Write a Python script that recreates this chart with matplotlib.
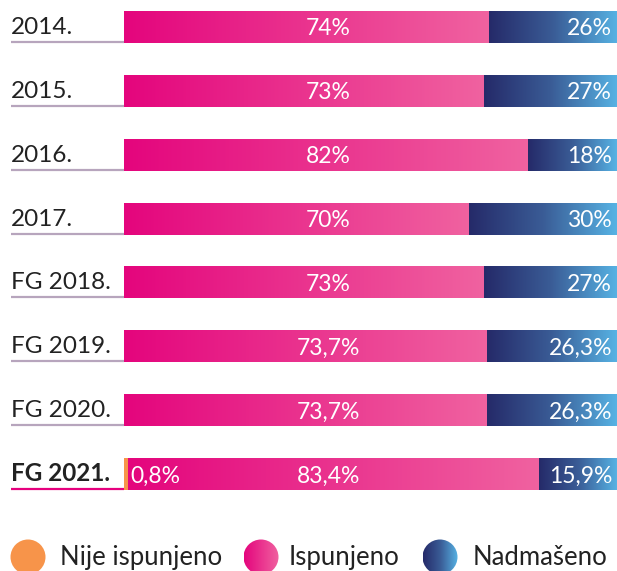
import numpy as np
import matplotlib.pyplot as plt
from matplotlib.colors import LinearSegmentedColormap
from matplotlib.patches import Circle

plt.rcParams['font.family'] = ['Lato', 'DejaVu Sans']

# Data
years = ['2014.', '2015.', '2016.', '2017.', 'FG 2018.', 'FG 2019.', 'FG 2020.', 'FG 2021.']
nije = [0, 0, 0, 0, 0, 0, 0, 0.8]
ispunjeno = [74, 73, 82, 70, 73, 73.7, 73.7, 83.4]
nadmaseno = [26, 27, 18, 30, 27, 26.3, 26.3, 15.9]
legend_labels = ['Nije ispunjeno', 'Ispunjeno', 'Nadmašeno']

# Colours
orange = '#f7944a'
pink_cmap = LinearSegmentedColormap.from_list('pink', ['#e4057d', '#f062a0'])
blue_cmap = LinearSegmentedColormap.from_list('blue', ['#252a69', '#3a5c96', '#57b3e4'])
grad = np.linspace(0, 1, 256).reshape(1, -1)


def fmt(v):
    return f"{v:g}".replace('.', ',') + '%'


W, H = 617, 571
fig = plt.figure(figsize=(W / 100, H / 100), dpi=100)

# bars axes: x in percent, y in rows
row_px = 63.86
first_px = 27
ax = fig.add_axes([124 / W, 0, 493 / W, 1])
ax.axis('off')
bar_h = 32 / row_px

for i, year in enumerate(years):
    y0, y1 = i - bar_h / 2, i + bar_h / 2
    left = 0
    if nije[i] > 0:
        ax.barh(i, nije[i], left=left, height=bar_h, color=orange, linewidth=0)
        left += nije[i]
    ax.imshow(grad, cmap=pink_cmap, extent=(left, left + ispunjeno[i], y1, y0),
              aspect='auto', interpolation='bicubic')
    left += ispunjeno[i]
    ax.imshow(grad, cmap=blue_cmap, extent=(left, left + nadmaseno[i], y1, y0),
              aspect='auto', interpolation='bicubic')

    # percentage labels
    if nije[i] > 0:
        ax.text(1.2, i + 0.03, fmt(nije[i]), color='white', fontsize=16.5,
                ha='left', va='center')
    ax.text(41.4, i + 0.03, fmt(ispunjeno[i]), color='white', fontsize=16.5,
            ha='center', va='center')
    ax.text(99.0, i + 0.03, fmt(nadmaseno[i]), color='white', fontsize=16.5,
            ha='right', va='center')

    # year label and underline
    last = i == len(years) - 1
    ax.text(-22.9, i + 0.11, year, color='#222222', fontsize=17.5,
            fontweight='bold' if last else 'normal', ha='left', va='baseline')
    ax.plot([-22.9, 0], [i + 0.235, i + 0.235], color='#e6007e' if last else '#b7a5bd',
            lw=1.6, solid_capstyle='butt', clip_on=False)

ax.set_xlim(0, 100)
ax.set_ylim((H - first_px) / row_px, -first_px / row_px)

# legend in pixel coordinates
lax = fig.add_axes([0, 0, 1, 1])
lax.set_xlim(0, W)
lax.set_ylim(H, 0)
lax.axis('off')
leg_y = 557
r = 17.5
circles = [(28, orange, None), (261, None, pink_cmap), (440, None, blue_cmap)]
text_x = [60, 289, 473]
for (cx, col, cmap), tx, lab in zip(circles, text_x, legend_labels):
    if cmap is None:
        lax.add_patch(Circle((cx, leg_y), r, color=col, lw=0))
    else:
        im = lax.imshow(grad, cmap=cmap, extent=(cx - r, cx + r, leg_y + r, leg_y - r),
                        aspect='auto', interpolation='bicubic')
        clip = Circle((cx, leg_y), r, transform=lax.transData)
        im.set_clip_path(clip)
    lax.text(tx, leg_y + 8, lab, color='#222222', fontsize=18.5, ha='left', va='baseline')
lax.set_xlim(0, W)
lax.set_ylim(H, 0)

fig.savefig('out.png', dpi=100)
